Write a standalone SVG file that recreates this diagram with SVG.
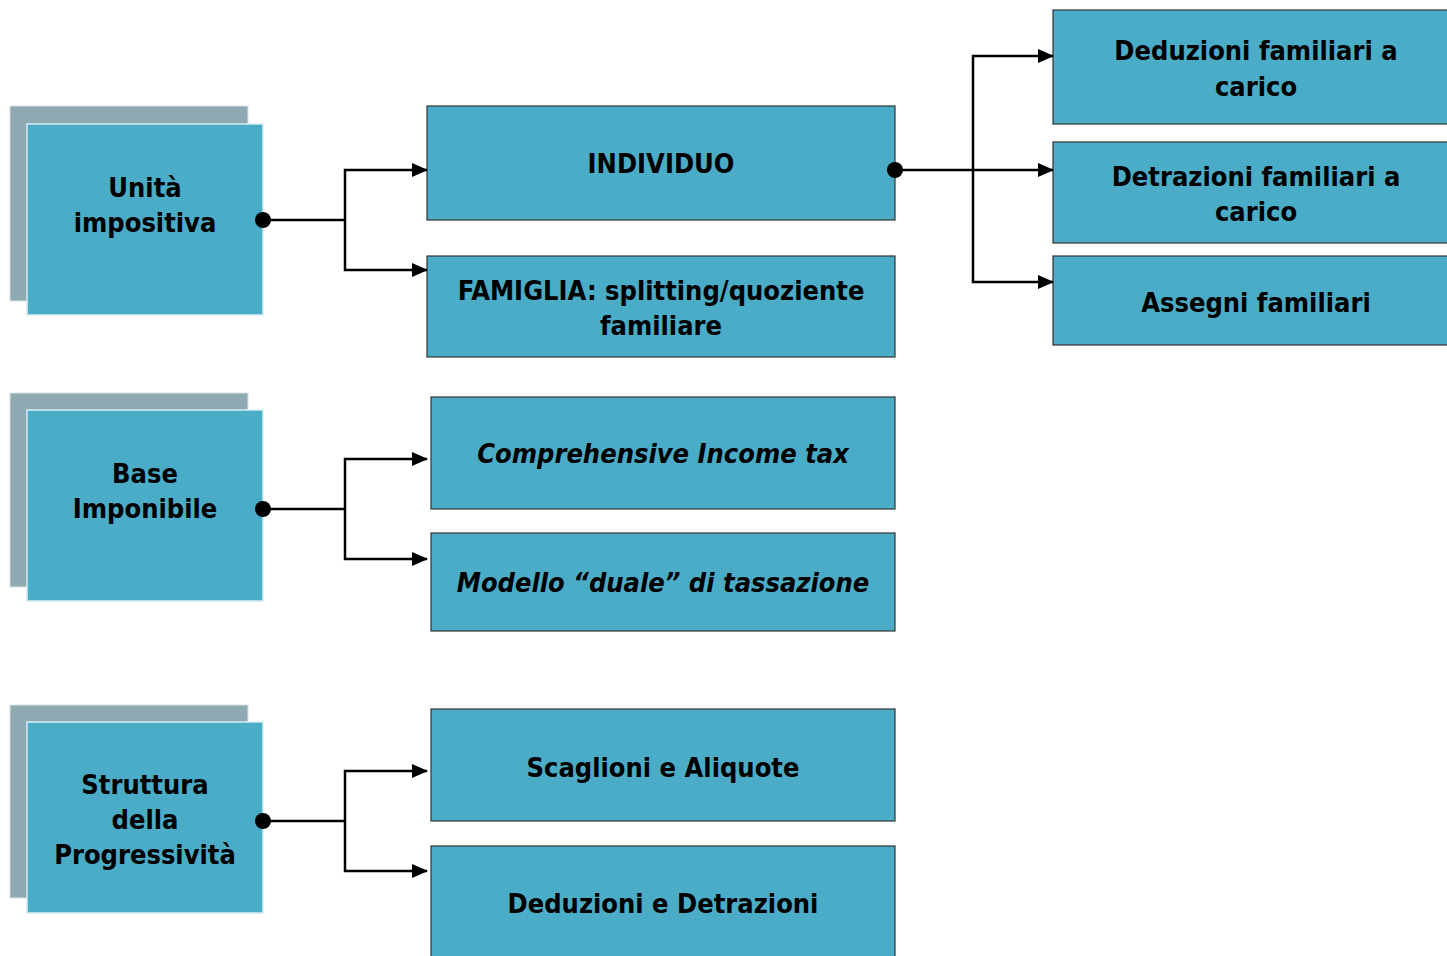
<svg xmlns="http://www.w3.org/2000/svg" width="1447" height="956" viewBox="0 0 1447 956">
<defs>
<marker id="arr" markerWidth="16" markerHeight="14" refX="15" refY="7" orient="auto" markerUnits="userSpaceOnUse">
<path d="M0,0 L16,7 L0,14 Z" fill="#000"/>
</marker>
<style>
.sh{fill:#8FA9B2;stroke:#d8e4e8;stroke-width:1}
.fr{fill:#4AACC6;stroke:#d6eef5;stroke-width:1.5}
.bx{fill:#4AACC6;stroke:#333;stroke-width:1.2}
.t{font-family:"DejaVu Sans Condensed","DejaVu Sans",sans-serif;font-weight:bold;font-size:27px;fill:#000;text-anchor:middle;dominant-baseline:central}
.i{font-style:italic}
.c{fill:none;stroke:#000;stroke-width:2.5}
</style>
</defs>
<rect width="1447" height="956" fill="#fff"/>
<g id="n-unita"><rect class="sh" x="10" y="106" width="238" height="195"/><rect class="fr" x="27" y="124" width="236" height="191"/><text class="t" x="145" y="187">Unità</text><text class="t" x="145" y="222">impositiva</text></g>
<g id="n-base"><rect class="sh" x="10" y="393" width="238" height="194"/><rect class="fr" x="27" y="410" width="236" height="191"/><text class="t" x="145" y="473">Base</text><text class="t" x="145" y="508">Imponibile</text></g>
<g id="n-struttura"><rect class="sh" x="10" y="705" width="238" height="193"/><rect class="fr" x="27" y="722" width="236" height="191"/><text class="t" x="145" y="784">Struttura</text><text class="t" x="145" y="819">della</text><text class="t" x="145" y="854">Progressività</text></g>
<g id="n-individuo"><rect class="bx" x="427" y="106" width="468" height="114"/><text class="t" x="661" y="163">INDIVIDUO</text></g>
<g id="n-famiglia"><rect class="bx" x="427" y="256" width="468" height="101"/><text class="t" x="661" y="290">FAMIGLIA: splitting/quoziente</text><text class="t" x="661" y="325">familiare</text></g>
<g id="n-comprehensive"><rect class="bx" x="431" y="397" width="464" height="112"/><text class="t i" x="663" y="453">Comprehensive Income tax</text></g>
<g id="n-modello"><rect class="bx" x="431" y="533" width="464" height="98"/><text class="t i" x="663" y="582">Modello “duale” di tassazione</text></g>
<g id="n-scaglioni"><rect class="bx" x="431" y="709" width="464" height="112"/><text class="t" x="663" y="767">Scaglioni e Aliquote</text></g>
<g id="n-dedudetra"><rect class="bx" x="431" y="846" width="464" height="120"/><text class="t" x="663" y="903">Deduzioni e Detrazioni</text></g>
<g id="n-deduzioni"><rect class="bx" x="1053" y="10" width="400" height="114"/><text class="t" x="1256" y="50">Deduzioni familiari a</text><text class="t" x="1256" y="86">carico</text></g>
<g id="n-detrazioni"><rect class="bx" x="1053" y="142" width="400" height="101"/><text class="t" x="1256" y="176">Detrazioni familiari a</text><text class="t" x="1256" y="211">carico</text></g>
<g id="n-assegni"><rect class="bx" x="1053" y="256" width="400" height="89"/><text class="t" x="1256" y="302">Assegni familiari</text></g>
<g id="connectors">
<circle cx="263" cy="220" r="8"/>
<path class="c" d="M263,220 H345"/>
<path class="c" d="M345,220 V170 H427" marker-end="url(#arr)"/>
<path class="c" d="M345,220 V270 H427" marker-end="url(#arr)"/>
<circle cx="263" cy="509" r="8"/>
<path class="c" d="M263,509 H345"/>
<path class="c" d="M345,509 V459 H427" marker-end="url(#arr)"/>
<path class="c" d="M345,509 V559 H427" marker-end="url(#arr)"/>
<circle cx="263" cy="821" r="8"/>
<path class="c" d="M263,821 H345"/>
<path class="c" d="M345,821 V771 H427" marker-end="url(#arr)"/>
<path class="c" d="M345,821 V871 H427" marker-end="url(#arr)"/>
<circle cx="895" cy="170" r="8"/>
<path class="c" d="M895,170 H1053" marker-end="url(#arr)"/>
<path class="c" d="M973,170 V56 H1053" marker-end="url(#arr)"/>
<path class="c" d="M973,170 V282 H1053" marker-end="url(#arr)"/>
</g>
</svg>
